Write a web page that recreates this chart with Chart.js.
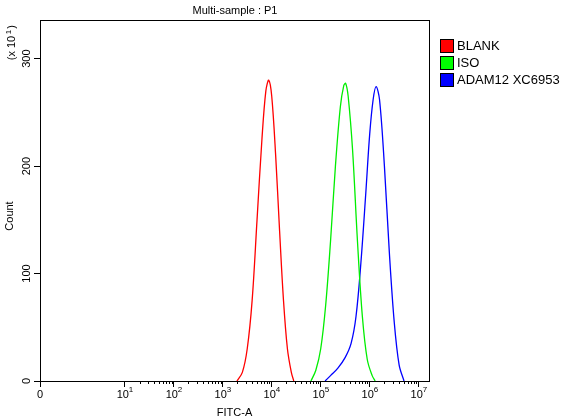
<!DOCTYPE html><html><head><meta charset="utf-8">
<script src="https://cdn.jsdelivr.net/npm/chart.js@4"></script>
<style>body{margin:0;background:#fff;font-family:"Liberation Sans",Arial,sans-serif}
#wrap{position:relative;width:566px;height:420px}
.lg{position:absolute;left:440px;font-size:13px;display:flex;align-items:center;height:15px}
.lg span{display:inline-block;width:12px;height:12px;border:1px solid #000;margin-right:3px}
</style></head><body><div id="wrap"><canvas id="c" width="566" height="420"></canvas>
<div class="lg" style="top:38px"><span style="background:#f00"></span>BLANK</div>
<div class="lg" style="top:55px"><span style="background:#0f0"></span>ISO</div>
<div class="lg" style="top:72px"><span style="background:#00f"></span>ADAM12 XC6953</div>
</div>
<script>
const seriesNames=["BLANK","ISO","ADAM12 XC6953"];
const seriesColors=["#ff0000","#00ee00","#0000ff"];
// x = log10(FITC-A), y = count (x10^1)
const blankX=[3.29,3.4,3.5,3.6,3.7,3.8,3.88,3.94,4.0,4.08,4.16,4.24,4.32,4.4,4.45];
const blankY=[0,8,30,75,150,225,270,280,265,210,140,75,30,8,0];
const isoX=[4.8,4.9,5.0,5.1,5.2,5.3,5.4,5.47,5.51,5.56,5.65,5.75,5.85,5.95,6.05,6.11];
const isoY=[0,10,30,70,130,200,255,275,277,265,215,130,60,20,5,0];
const adamX=[5.09,5.2,5.35,5.5,5.62,5.72,5.82,5.92,6.0,6.07,6.13,6.2,6.3,6.4,6.5,6.6,6.7];
const adamY=[0,5,12,22,35,60,110,175,230,262,274,262,200,120,55,15,0];
const xTickVals=[-0.73,1,2,3,4,5,6,7];
const xTickBase=["0","10","10","10","10","10","10","10"];
const xTickExp=["","1","2","3","4","5","6","7"];
const yTicks=[0,100,200,300];
const pts=(xs,ys)=>xs.map((x,i)=>({x,y:ys[i]}));
const sets=[pts(blankX,blankY),pts(isoX,isoY),pts(adamX,adamY)];
const font={family:'"Liberation Sans",Arial,sans-serif',size:11};
const deco={id:'deco',afterDraw(ch){const c=ch.ctx,xs=ch.scales.x,ys=ch.scales.y,b=ch.chartArea.bottom;
c.save();c.strokeStyle='#000';c.lineWidth=1;
for(let n=1;n<7;n++)for(let k=2;k<10;k++){const p=Math.round(xs.getPixelForValue(n+Math.log10(k)))+0.5;c.beginPath();c.moveTo(p,b);c.lineTo(p,b+3);c.stroke();}
c.fillStyle='#000';c.font='11px "Liberation Sans",Arial';c.textAlign='center';c.textBaseline='alphabetic';
c.fillText('Multi-sample : P1',235,14);
c.save();c.translate(13,216);c.rotate(-Math.PI/2);c.fillText('Count',0,0);c.restore();
c.save();c.translate(15,45);c.rotate(-Math.PI/2);c.fillText('(x 10',-3,0);c.font='8px "Liberation Sans",Arial';c.fillText('1',13,-4);c.font='11px "Liberation Sans",Arial';c.fillText(')',18,0);c.restore();
yTicks.forEach(v=>{const p=ys.getPixelForValue(v);c.save();c.translate(30,p);c.rotate(-Math.PI/2);c.fillText(String(v),0,0);c.restore();});
xTickVals.forEach((v,i)=>{const p=xs.getPixelForValue(v);c.font='11px "Liberation Sans",Arial';c.textAlign='center';
 if(!xTickExp[i]){c.fillText(xTickBase[i],p,b+17);}else{c.fillText(xTickBase[i],p-2,b+17);c.font='8px "Liberation Sans",Arial';c.textAlign='left';c.fillText(xTickExp[i],p+4,b+11);}});
c.restore();}};
new Chart(document.getElementById('c'),{type:'line',
data:{datasets:sets.map((d,i)=>({label:seriesNames[i],data:d,borderColor:seriesColors[i],borderWidth:1.3,pointRadius:0,tension:0.35,fill:false}))},
options:{responsive:false,animation:false,layout:{padding:{top:20,right:137,left:0,bottom:0}},
plugins:{legend:{display:false},tooltip:{enabled:false}},
scales:{
x:{type:'linear',min:-0.73,max:7.21,afterBuildTicks(s){s.ticks=xTickVals.map(v=>({value:v}));},
afterFit(s){s.height=39;},
ticks:{display:false},
grid:{drawOnChartArea:false,color:'#000',tickLength:6},border:{color:'#000'},
title:{display:true,text:'FITC-A',color:'#000',font,padding:{top:20,bottom:0}}},
y:{min:0,max:336,afterBuildTicks(s){s.ticks=yTicks.map(v=>({value:v}));},
afterFit(s){s.width=40;},
ticks:{display:false},
grid:{drawOnChartArea:false,color:'#000',tickLength:6},border:{color:'#000'}}}},
plugins:[deco,{id:'box',afterDraw(ch){const a=ch.chartArea,c=ch.ctx;c.save();c.strokeStyle='#000';c.lineWidth=1;c.strokeRect(a.left+0.5,a.top+0.5,a.right-a.left,a.bottom-a.top);c.restore();}}]});
</script></body></html>
